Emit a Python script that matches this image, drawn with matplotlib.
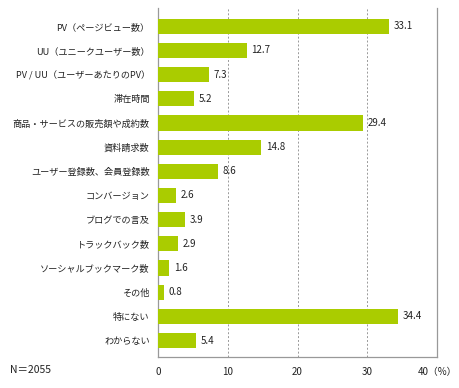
import matplotlib
matplotlib.use("Agg")
import matplotlib.pyplot as plt

plt.rcParams['font.family'] = ['Noto Sans CJK JP', 'DejaVu Sans']

# データ
labels = ['PV（ページビュー数）', 'UU（ユニークユーザー数）', 'PV / UU（ユーザーあたりのPV）',
          '滞在時間', '商品・サービスの販売額や成約数', '資料請求数', 'ユーザー登録数、会員登録数',
          'コンバージョン', 'ブログでの言及', 'トラックバック数', 'ソーシャルブックマーク数',
          'その他', '特にない', 'わからない']
values = [33.1, 12.7, 7.3, 5.2, 29.4, 14.8, 8.6, 2.6, 3.9, 2.9, 1.6, 0.8, 34.4, 5.4]
xticks = [0, 10, 20, 30, 40]
xtick_labels = ['0', '10', '20', '30', '40（%）']
n_text = 'N＝2055'

fig = plt.figure(figsize=(4.6, 3.88), dpi=100)
ax = fig.add_axes([0.3435, 0.08, 0.6065, 0.899])

ypos = list(range(len(labels)))
ax.barh(ypos, values, height=0.63, color='#aacc00', zorder=3)
for y, v in zip(ypos, values):
    ax.text(v + 0.7, y, f'{v:.1f}', va='center', ha='left', fontsize=7, color='#222222')

ax.set_xlim(0, 40)
ax.set_ylim(13.68, -0.75)
ax.set_yticks(ypos)
ax.set_yticklabels(labels, fontsize=6.6, color='#222222')
ax.set_xticks(xticks)
ax.set_xticklabels(xtick_labels, fontsize=7, color='#222222')
ax.tick_params(length=0, pad=6)
ax.tick_params(axis='x', pad=7)

for x in [10, 20, 30]:
    ax.axvline(x, color='#999999', linestyle=(0, (2, 2)), linewidth=0.7, zorder=1)

ax.spines['top'].set_visible(False)
for s in ['left', 'bottom', 'right']:
    ax.spines[s].set_color('#999999')
    ax.spines[s].set_linewidth(0.9)

fig.text(10 / 460, 1 - 370 / 388, n_text, fontsize=7.5, va='center', ha='left', color='#222222')

fig.savefig('out.png', dpi=100)
